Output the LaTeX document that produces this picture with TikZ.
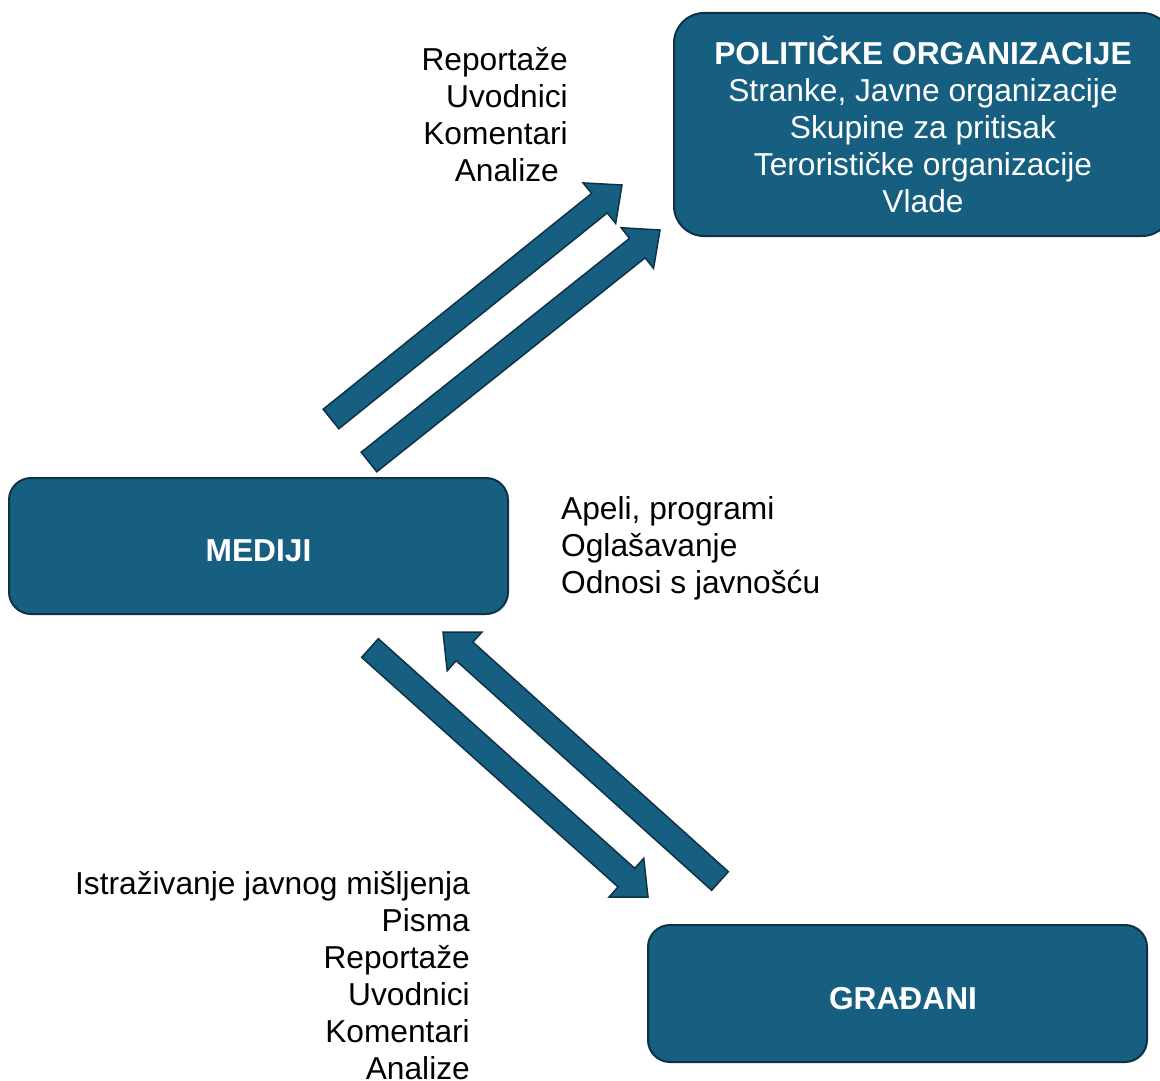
\documentclass[tikz,border=0pt]{standalone}
\usepackage{fontspec}
\setmainfont{Liberation Sans}
\usetikzlibrary{calc}
\definecolor{boxblue}{HTML}{175F80}
\definecolor{boxedge}{HTML}{0D3246}
\newcommand{\blockarr}[2]{%
  \path ($(#2)!29pt!(#1)$) coordinate (hb);
  \draw[blk] ($(#1)!12.5pt!90:(#2)$) -- ($(hb)!12.5pt!90:(#2)$) -- ($(hb)!26pt!90:(#2)$) -- (#2)
    -- ($(hb)!26pt!-90:(#2)$) -- ($(hb)!12.5pt!-90:(#2)$) -- ($(#1)!12.5pt!-90:(#2)$) -- cycle;}
\begin{document}
\begin{tikzpicture}[x=1pt,y=-1pt,
  box/.style={draw=boxedge, line width=2pt, fill=boxblue, rounded corners=22pt, text=white,
    font=\fontsize{31.7}{37}\selectfont, align=center, inner sep=0pt},
  boldbox/.style={box, font=\fontsize{31.7}{37}\selectfont\bfseries, text height=31pt, text depth=0pt},
  lbl/.style={font=\fontsize{31.7}{37}\selectfont, inner sep=0pt},
  blk/.style={draw=boxedge, line width=1.5pt, fill=boxblue, line join=miter}]
\useasboundingbox (0,0) rectangle (1160,1081);
\begin{scope}
\clip (0,0) rectangle (1160,1081);
\node[box, minimum width=498pt, minimum height=223pt, rounded corners=30pt] (pol) at (923,124.5)
  {\textbf{POLITIČKE ORGANIZACIJE}\\ Stranke, Javne organizacije\\ Skupine za pritisak\\ Terorističke organizacije\\ Vlade};
\end{scope}
\node[boldbox, minimum width=499pt, minimum height=136pt] (med) at (258.5,546) {MEDIJI};
\node[boldbox, minimum width=499pt, minimum height=137pt] (gra) at (897.5,993.5) {\hspace*{11pt}GRAĐANI};

\node[lbl, align=right, anchor=east] (t1) at (568,114.5)
  {Reportaže\\ Uvodnici\\ Komentari\hspace*{2pt}\\ Analize\hspace*{9pt}};
\node[lbl, align=left, anchor=west] (t2) at (561,548)
  {Apeli, programi\\ Oglašavanje\\ Odnosi s javnošću};
\node[lbl, align=right, anchor=east] (t3) at (470,975.5)
  {Istraživanje javnog mišljenja\\ Pisma\\ Reportaže\\ Uvodnici\\ Komentari\hspace*{4pt}\\ Analize};

\coordinate (a1s) at (331,419); \coordinate (a1e) at (622,185);
\coordinate (a2s) at (369,462); \coordinate (a2e) at (660,230);
\coordinate (a3s) at (370,648); \coordinate (a3e) at (648,897);
\coordinate (a4s) at (720,881); \coordinate (a4e) at (443,632);
\blockarr{a1s}{a1e}
\blockarr{a2s}{a2e}
\blockarr{a3s}{a3e}
\blockarr{a4s}{a4e}
\end{tikzpicture}
\end{document}
